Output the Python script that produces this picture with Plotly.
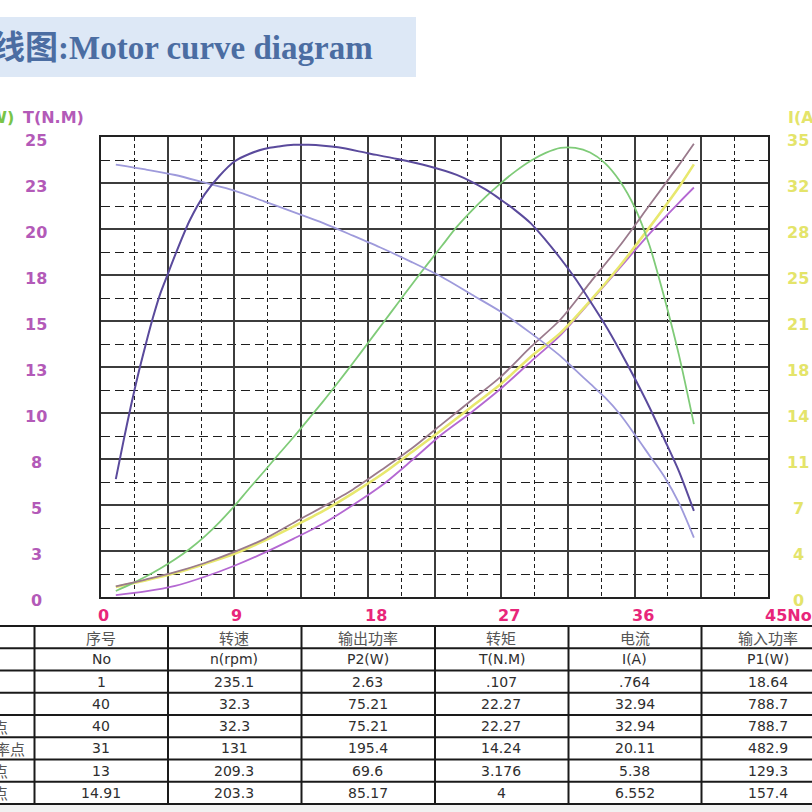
import plotly.graph_objects as go

# ---------------- data ----------------
# efficiency curve (%), dark purple
x_eff = [1, 1.5, 2, 2.5, 3, 3.5, 4, 4.5, 5, 6, 7, 8, 9, 10, 11, 12, 13, 14, 15, 16, 18, 20,
         22, 24, 26, 27, 28, 29, 30, 31, 32, 33, 34, 35, 36, 37, 38, 39, 40]
eff = [14.1, 18.5, 22.7, 26.6, 30.1, 33.4, 36.3, 38.6, 40.9, 45.1, 48.2, 50.4, 52.1, 53.0, 53.6,
       53.9, 54.1, 54.1, 54.0, 53.8, 53.1, 52.4, 51.6, 50.5, 48.7, 47.5, 46.2, 44.7, 42.7, 40.5,
       38.1, 35.4, 32.6, 29.5, 26.2, 22.7, 18.9, 15.0, 10.3]

# speed n (rpm), lavender
x_speed = [1, 3, 5, 7, 9, 11, 13, 15, 17, 19, 21, 23, 25, 27, 29, 31, 32, 33, 34, 35, 36, 37, 38, 39, 40]
speed = [235.1, 232.5, 229.5, 225.3, 221.0, 215.2, 209.3, 203.3, 196.5, 189.5, 182.0, 174.0, 164.5,
         155.0, 143.5, 131.0, 123.5, 116.0, 108.5, 99.5, 88.5, 77.0, 65.5, 51.0, 32.3]

# output power P2 (W), green
x_p2 = [1, 2, 3, 4, 5, 6, 7, 8, 9, 10, 11, 12, 13, 14, 15, 16, 17, 18, 19, 20,
        21, 22, 23, 24, 25, 26, 27, 28, 29, 30, 31, 32, 33, 34, 35, 36, 37, 38, 39, 40]
p2 = [2.63, 5.6, 8.8, 12.4, 16.4, 21.0, 26.4, 32.6, 39.6, 47.2, 54.6, 62.2, 69.6, 77.4, 85.2,
      93.4, 101.8, 110.4, 119.0, 127.6, 136.2, 144.6, 152.8, 161.0, 168.0, 174.4, 180.2, 185.4,
      189.8, 193.2, 195.4, 195.4, 193.4, 188.8, 181.0, 169.6, 153.0, 130.4, 105.0, 75.21]

# input power P1 (W), brown ; current I (A), yellow ; torque T (N.M), magenta
x_rise = [1, 3, 5, 7, 9, 11, 13, 15, 17, 19, 21, 23, 25, 27, 29, 31, 33, 35, 37, 39, 40]
p1 = [18.64, 30.4, 43.2, 59.2, 78.4, 100.8, 129.3, 157.4, 187.2, 222.4, 259.2, 300.8, 342.4,
      384.0, 435.2, 482.9, 547.2, 611.2, 681.6, 752.0, 788.7]
current = [0.764, 1.26, 1.82, 2.52, 3.29, 4.27, 5.38, 6.552, 7.91, 9.38, 11.06, 12.74, 14.49,
           16.24, 18.3, 20.11, 22.54, 25.2, 28.14, 31.22, 32.94]
torque = [0.107, 0.3, 0.6, 1.1, 1.7, 2.4, 3.176, 4.0, 5.0, 6.1, 7.45, 8.85, 10.05, 11.35, 12.8,
          14.24, 16.05, 17.9, 19.75, 21.45, 22.27]

# tick labels
x_ticks = [0, 9, 18, 27, 36, 45]
x_tick_labels = ["0", "9", "18", "27", "36", "45No"]
t_ticks = [0, 2.5, 5, 7.5, 10, 12.5, 15, 17.5, 20, 22.5, 25]
t_tick_labels = ["0", "3", "5", "8", "10", "13", "15", "18", "20", "23", "25"]
i_ticks = [0, 3.5, 7, 10.5, 14, 17.5, 21, 24.5, 28, 31.5, 35]
i_tick_labels = ["0", "4", "7", "11", "14", "18", "21", "25", "28", "32", "35"]

# table
header_cn = ["序号", "转速", "输出功率", "转矩", "电流", "输入功率"]
header_en = ["No", "n(rpm)", "P2(W)", "T(N.M)", "I(A)", "P1(W)"]
row_names = ["", "", "点", "率点", "点", "点"]
col_no = ["1", "40", "40", "31", "13", "14.91"]
col_speed = ["235.1", "32.3", "32.3", "131", "209.3", "203.3"]
col_p2 = ["2.63", "75.21", "75.21", "195.4", "69.6", "85.17"]
col_torque = [".107", "22.27", "22.27", "14.24", "3.176", "4"]
col_current = [".764", "32.94", "32.94", "20.11", "5.38", "6.552"]
col_p1 = ["18.64", "788.7", "788.7", "482.9", "129.3", "157.4"]

title_text = "线图:Motor curve diagram"

# ---------------- layout helpers ----------------
W = H = 812


def px(x):
    return x / W


def py(y):
    return 1 - y / H


PLOT_L, PLOT_R, PLOT_T, PLOT_B = 101, 768, 137.3, 597

fig = go.Figure()

line_kw = dict(shape="spline", smoothing=0.8)
fig.add_trace(go.Scatter(x=x_speed, y=speed, yaxis="y5", mode="lines",
                         line=dict(color="#9e9adb", width=1.8, **line_kw), name="n"))
fig.add_trace(go.Scatter(x=x_eff, y=eff, yaxis="y6", mode="lines",
                         line=dict(color="#5a4a9c", width=2, **line_kw), name="Eff"))
fig.add_trace(go.Scatter(x=x_p2, y=p2, yaxis="y3", mode="lines",
                         line=dict(color="#7fcb78", width=1.8, **line_kw), name="P2"))
fig.add_trace(go.Scatter(x=x_rise, y=p1, yaxis="y4", mode="lines",
                         line=dict(color="#9a7a8c", width=1.8, **line_kw), name="P1"))
fig.add_trace(go.Scatter(x=x_rise, y=current, yaxis="y2", mode="lines",
                         line=dict(color="#e8e86e", width=2.6, **line_kw), name="I"))
fig.add_trace(go.Scatter(x=x_rise, y=torque, yaxis="y", mode="lines",
                         line=dict(color="#b468d2", width=1.8, **line_kw), name="T"))

hidden = dict(overlaying="y", visible=False, showgrid=False, zeroline=False)

fig.update_layout(
    width=W, height=H, autosize=False,
    margin=dict(l=0, r=0, t=0, b=0),
    paper_bgcolor="white", plot_bgcolor="white",
    showlegend=False,
    xaxis=dict(domain=[px(PLOT_L), px(PLOT_R)], range=[0, 45], tick0=0, dtick=4.5,
               showgrid=True, gridcolor="#3c3c3c", gridwidth=1.6, zeroline=False,
               showline=True, mirror=True, linecolor="#222", linewidth=1.6,
               showticklabels=False, ticks="",
               minor=dict(tick0=0, dtick=2.25, showgrid=True, gridcolor="#1e1e1e",
                          gridwidth=1.4, griddash="4px,3px", ticks="")),
    yaxis=dict(domain=[py(PLOT_B), py(PLOT_T)], range=[0, 25], tick0=0, dtick=2.5,
               showgrid=True, gridcolor="#3c3c3c", gridwidth=1.6, zeroline=False,
               showline=True, mirror=True, linecolor="#222", linewidth=1.6,
               showticklabels=False, ticks="",
               minor=dict(tick0=0, dtick=1.25, showgrid=True, gridcolor="#1e1e1e",
                          gridwidth=1.4, griddash="9px,5px", ticks="")),
    yaxis2=dict(range=[0, 35], side="right", **hidden),
    yaxis3=dict(range=[0, 200], **hidden),
    yaxis4=dict(range=[0, 800], **hidden),
    yaxis5=dict(range=[0, 250], **hidden),
    yaxis6=dict(range=[0, 55], **hidden),
)

shapes = []
annotations = []

# title banner
shapes.append(dict(type="rect", xref="paper", yref="paper", x0=0, x1=px(416), y0=py(77), y1=py(17),
                   fillcolor="#dde8f6", line=dict(width=0), layer="below"))
annotations.append(dict(xref="paper", yref="paper", x=px(-10), y=py(48), xanchor="left", yanchor="middle",
                        text=title_text, showarrow=False,
                        font=dict(family="Liberation Serif, Noto Sans CJK SC", size=33,
                                  color="#4b6da2", weight=700)))

# axis titles
annotations.append(dict(xref="paper", yref="paper", x=px(16), y=py(118), xanchor="right", yanchor="middle",
                        text="(W)", showarrow=False,
                        font=dict(family="DejaVu Sans", size=16, color="#78c448", weight=700)))
annotations.append(dict(xref="paper", yref="paper", x=px(21), y=py(118), xanchor="left", yanchor="middle",
                        text="T(N.M)", showarrow=False,
                        font=dict(family="DejaVu Sans", size=16, color="#b35ab8", weight=700)))
annotations.append(dict(xref="paper", yref="paper", x=px(786), y=py(118), xanchor="left", yanchor="middle",
                        text="I(A)", showarrow=False,
                        font=dict(family="DejaVu Sans", size=16, color="#e4e46a", weight=700)))

# left tick labels
for v, t in zip(t_ticks, t_tick_labels):
    annotations.append(dict(xref="paper", yref="y", x=px(36), y=v, yshift=-3, xanchor="center",
                            yanchor="middle", text=t, showarrow=False,
                            font=dict(family="DejaVu Sans", size=16, color="#b35ab8", weight=700)))
# right tick labels
for v, t in zip(i_ticks, i_tick_labels):
    annotations.append(dict(xref="paper", yref="y2", x=px(798), y=v, yshift=-3, xanchor="center",
                            yanchor="middle", text=t, showarrow=False,
                            font=dict(family="DejaVu Sans", size=16, color="#e4e46a", weight=700)))
# x tick labels
for v, t in zip(x_ticks, x_tick_labels):
    annotations.append(dict(xref="x", yref="paper", x=v, xshift=-5, y=py(615), xanchor="left",
                            yanchor="middle", text=t, showarrow=False,
                            font=dict(family="DejaVu Sans", size=16, color="#e8267a", weight=700)))

# table
row_edges = [626, 648.3, 670.5, 692.8, 715, 737.3, 759.5, 781.8, 804]
col_edges = [34.5, 168, 301.5, 435, 568.5, 701.5]
shapes.append(dict(type="rect", xref="paper", yref="paper", x0=0, x1=1, y0=0, y1=py(804),
                   fillcolor="#f1f1f1", line=dict(width=0), layer="below"))
for r in row_edges:
    shapes.append(dict(type="line", xref="paper", yref="paper", x0=0, x1=1, y0=py(r), y1=py(r),
                       line=dict(color="#1a1a1a", width=2)))
for c in col_edges:
    shapes.append(dict(type="line", xref="paper", yref="paper", x0=px(c), x1=px(c),
                       y0=py(row_edges[0]), y1=py(row_edges[-1]),
                       line=dict(color="#1a1a1a", width=2)))

row_centers = [(row_edges[i] + row_edges[i + 1]) / 2 for i in range(len(row_edges) - 1)]
txt_font = dict(family="DejaVu Sans", size=14, color="#2e2e2e")
cn_font = dict(family="Noto Sans CJK SC", size=15, color="#555555")

for cx, t in zip(x_ticks, header_cn):
    annotations.append(dict(xref="x", yref="paper", x=cx, y=py(row_centers[0]), text=t,
                            showarrow=False, xanchor="center", yanchor="middle", font=cn_font))
for cx, t in zip(x_ticks, header_en):
    annotations.append(dict(xref="x", yref="paper", x=cx, y=py(row_centers[1]), text=t,
                            showarrow=False, xanchor="center", yanchor="middle", font=txt_font))

columns = [col_no, col_speed, col_p2, col_torque, col_current, col_p1]
for cx, col in zip(x_ticks, columns):
    for ri, t in enumerate(col):
        annotations.append(dict(xref="x", yref="paper", x=cx, y=py(row_centers[ri + 2]), text=t,
                                showarrow=False, xanchor="center", yanchor="middle", font=txt_font))

name_right = [10, 10, 10, 27, 10, 10]
for ri, t in enumerate(row_names):
    if t:
        annotations.append(dict(xref="paper", yref="paper", x=px(name_right[ri]), y=py(row_centers[ri + 2]),
                                text=t, showarrow=False, xanchor="right", yanchor="middle", font=cn_font))

fig.update_layout(shapes=shapes, annotations=annotations)

# remove the default 8px page margin so the 812x812 figure fills the window exactly
fig.write_html("out.html", config={"displayModeBar": False},
               post_script="document.body.style.margin='0';")
